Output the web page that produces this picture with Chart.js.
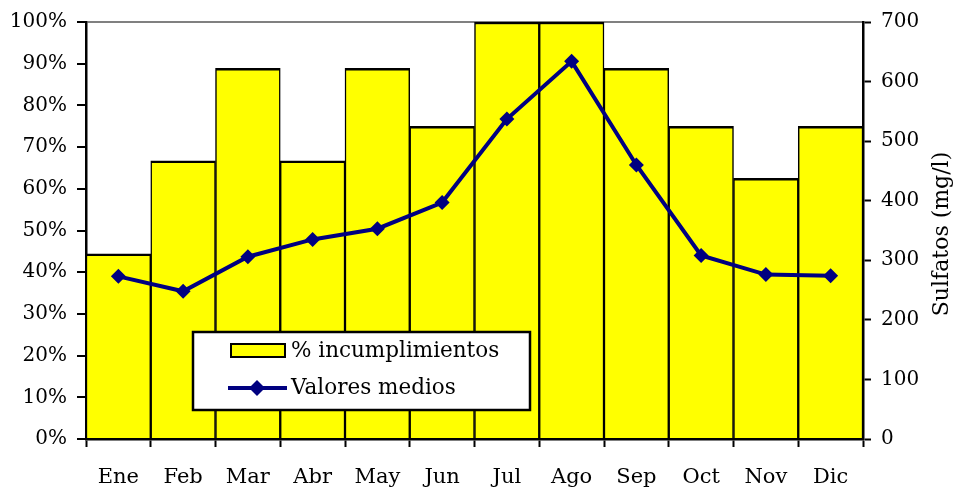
<!DOCTYPE html>
<html>
<head>
<meta charset="utf-8">
<script src="https://cdn.jsdelivr.net/npm/chart.js@4.4.0/dist/chart.umd.min.js"></script>
<style>
  html, body { margin: 0; padding: 0; background: #fff; }
  #wrap { position: relative; width: 954px; height: 491px; }
</style>
</head>
<body>
<div id="wrap"><canvas id="chart" width="954" height="491"></canvas></div>
<script>
// Meses
const months = ['Ene', 'Feb', 'Mar', 'Abr', 'May', 'Jun', 'Jul', 'Ago', 'Sep', 'Oct', 'Nov', 'Dic'];

// % de incumplimientos por mes
const incumplimientos = [44.4, 66.7, 88.9, 66.7, 88.9, 75, 100, 100, 88.9, 75, 62.5, 75];

// Valores medios de sulfatos (mg/l)
const valoresMedios = [273, 248, 306, 335, 353, 397, 537, 634, 460, 308, 276, 274];

const FONT = 'DejaVu Serif';
const NAVY = '#000080';
const YELLOW = '#ffff00';

// Titulo del eje derecho, leido de abajo hacia arriba
const rightTitle = {
  id: 'rightTitle',
  afterDraw(chart) {
    const ctx = chart.ctx;
    ctx.save();
    ctx.translate(942, 234);
    ctx.rotate(-Math.PI / 2);
    ctx.font = '22px "' + FONT + '"';
    ctx.fillStyle = '#000';
    ctx.textAlign = 'center';
    ctx.textBaseline = 'middle';
    ctx.fillText('Sulfatos (mg/l)', 0, 0);
    ctx.restore();
  }
};

// Leyenda dentro del area del grafico
const boxLegend = {
  id: 'boxLegend',
  afterDraw(chart) {
    const ctx = chart.ctx;
    const bar = chart.data.datasets[1];
    const line = chart.data.datasets[0];
    const x = 193, y = 332, w = 337, h = 78;
    ctx.save();
    ctx.fillStyle = '#fff';
    ctx.fillRect(x, y, w, h);
    ctx.lineWidth = 2.5;
    ctx.strokeStyle = '#000';
    ctx.strokeRect(x, y, w, h);

    // muestra de barra
    ctx.lineWidth = 2;
    ctx.fillStyle = bar.backgroundColor;
    ctx.fillRect(231, 344, 54, 13);
    ctx.strokeRect(231, 344, 54, 13);

    // muestra de linea con rombo
    ctx.strokeStyle = line.borderColor;
    ctx.lineWidth = 4;
    ctx.beginPath();
    ctx.moveTo(228, 388);
    ctx.lineTo(287, 388);
    ctx.stroke();
    ctx.fillStyle = line.pointBackgroundColor;
    ctx.beginPath();
    ctx.moveTo(257, 380);
    ctx.lineTo(265, 388);
    ctx.lineTo(257, 396);
    ctx.lineTo(249, 388);
    ctx.closePath();
    ctx.fill();

    ctx.font = '21.5px "' + FONT + '"';
    ctx.fillStyle = '#000';
    ctx.textBaseline = 'middle';
    ctx.fillText(bar.label, 291, 351);
    ctx.fillText(line.label, 291, 388);
    ctx.restore();
  }
};

const tickFont = { family: FONT, size: 20 };

new Chart(document.getElementById('chart'), {
  data: {
    labels: months,
    datasets: [
      {
        type: 'line',
        label: 'Valores medios',
        data: valoresMedios,
        yAxisID: 'ySulf',
        borderColor: NAVY,
        borderWidth: 4,
        pointStyle: 'rectRot',
        pointRadius: 7.5,
        pointBackgroundColor: NAVY,
        pointBorderColor: NAVY,
        pointBorderWidth: 0,
        tension: 0,
        order: 1
      },
      {
        type: 'bar',
        label: '% incumplimientos',
        data: incumplimientos,
        yAxisID: 'yPct',
        backgroundColor: YELLOW,
        borderColor: '#000',
        borderWidth: { top: 2.5, left: 1.5, right: 1.5, bottom: 0 },
        borderSkipped: false,
        barPercentage: 1,
        categoryPercentage: 1,
        order: 2
      }
    ]
  },
  options: {
    responsive: false,
    animation: false,
    layout: { padding: { top: 19, left: 0, right: 0, bottom: 0 } },
    plugins: {
      legend: { display: false },
      tooltip: { enabled: false }
    },
    scales: {
      x: {
        grid: { drawOnChartArea: false, offset: true, tickLength: 8, tickColor: '#000', tickWidth: 2 },
        border: { color: '#000', width: 2.5 },
        ticks: { color: '#000', font: { family: FONT, size: 21 }, padding: 18, maxRotation: 0 },
        afterFit(scale) { scale.height = 52; }
      },
      yPct: {
        position: 'left',
        min: 0,
        max: 100,
        grid: {
          color: ctx => (ctx.tick && ctx.tick.value === 100 ? '#808080' : 'transparent'),
          lineWidth: 2,
          tickLength: 9,
          tickColor: '#000',
          tickWidth: 2
        },
        border: { color: '#000', width: 2.5 },
        ticks: {
          stepSize: 10,
          color: '#000',
          font: tickFont,
          padding: 10,
          callback: v => v + '%'
        },
        afterFit(scale) { scale.width = 86; }
      },
      ySulf: {
        position: 'right',
        min: 0,
        max: 700,
        grid: { drawOnChartArea: false, tickLength: 8, tickColor: '#000', tickWidth: 2 },
        border: { color: '#000', width: 2.5 },
        ticks: { stepSize: 100, color: '#000', font: tickFont, padding: 10 },
        afterFit(scale) { scale.width = 91; }
      }
    }
  },
  plugins: [rightTitle, boxLegend]
});
</script>
</body>
</html>
